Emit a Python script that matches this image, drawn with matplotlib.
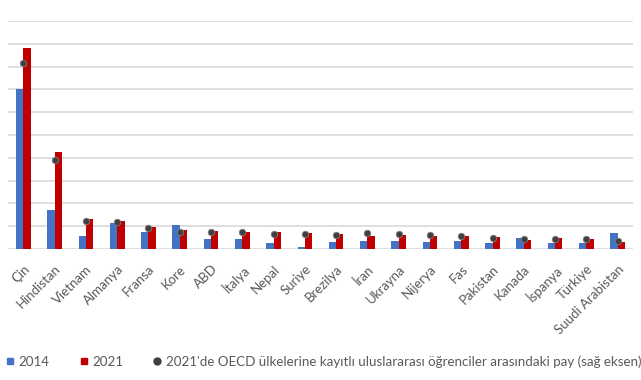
import numpy as np
import matplotlib
matplotlib.use("Agg")
import matplotlib.pyplot as plt
from matplotlib.lines import Line2D

plt.rcParams['font.family'] = ['Lato', 'DejaVu Sans']

# data (left axis: thousand students, right axis: share %)
countries = ["Çin", "Hindistan", "Vietnam", "Almanya", "Fransa", "Kore", "ABD", "İtalya",
             "Nepal", "Suriye", "Brezilya", "İran", "Ukrayna", "Nijerya", "Fas", "Pakistan",
             "Kanada", "İspanya", "Türkiye", "Suudi Arabistan"]
students_2014 = [700, 171, 57, 113, 76, 105, 45, 45, 25, 9, 32, 35, 35, 32, 35, 25, 47, 25, 25, 69]
students_2021 = [879, 423, 130, 124, 98, 83, 79, 76, 73, 69, 64, 58, 61, 57, 57, 54, 39, 47, 42, 32]
share_2021 = [20.4, 9.8, 3.1, 2.9, 2.3, 1.9, 1.8, 1.8, 1.6, 1.6, 1.5, 1.7, 1.65, 1.5, 1.4, 1.25, 1.1, 1.05, 1.05, 0.9]

blue = "#4472C4"
red = "#C00000"
grey = "#595959"


def main():
    fig = plt.figure(figsize=(6.41, 3.80), dpi=100)
    ax = fig.add_axes([0.012, 0.345, 0.976, 0.6])
    x = np.arange(len(countries))
    w = 0.235

    ax.bar(x - w / 2, students_2014, w, color=blue, zorder=2)
    ax.bar(x + w / 2, students_2021, w, color=red, zorder=2)
    ax.set_ylim(0, 1000)
    ax.set_yticks(np.arange(0, 1001, 100))
    ax.yaxis.grid(True, color="#D9D9D9", linewidth=1.2, zorder=0)
    ax.set_xlim(-0.5, len(countries) - 0.5)
    ax.set_xticks(x)
    ax.set_xticklabels(countries, rotation=45, ha="right", rotation_mode="anchor",
                       fontsize=9.5, color=grey)
    ax.tick_params(axis="x", length=0, pad=10)
    ax.tick_params(axis="y", length=0, labelleft=False)
    for s in ax.spines.values():
        s.set_visible(False)

    ax2 = ax.twinx()
    ax2.scatter(x, share_2021, s=22, color="#404040", edgecolors="#7F7F7F",
                linewidths=0.6, zorder=3)
    ax2.set_ylim(0, 25)
    ax2.set_yticks([])
    for s in ax2.spines.values():
        s.set_visible(False)

    handles = [
        Line2D([], [], marker="s", linestyle="", color=blue, markersize=5),
        Line2D([], [], marker="s", linestyle="", color=red, markersize=5),
        Line2D([], [], marker="o", linestyle="", color="#404040", markersize=5),
    ]
    labels = ["2014", "2021",
              "2021'de OECD ülkelerine kayıtlı uluslararası öğrenciler arasındaki pay (sağ eksen)"]
    leg = fig.legend(handles, labels, loc="center left", bbox_to_anchor=(0.0, 0.048),
                     ncol=3, frameon=False, fontsize=9.6, handlelength=0.7,
                     handletextpad=0.3, columnspacing=2.2, borderaxespad=0)
    for t in leg.get_texts():
        t.set_color(grey)

    fig.savefig("out.png", dpi=100)


if __name__ == '__main__':
    main()
